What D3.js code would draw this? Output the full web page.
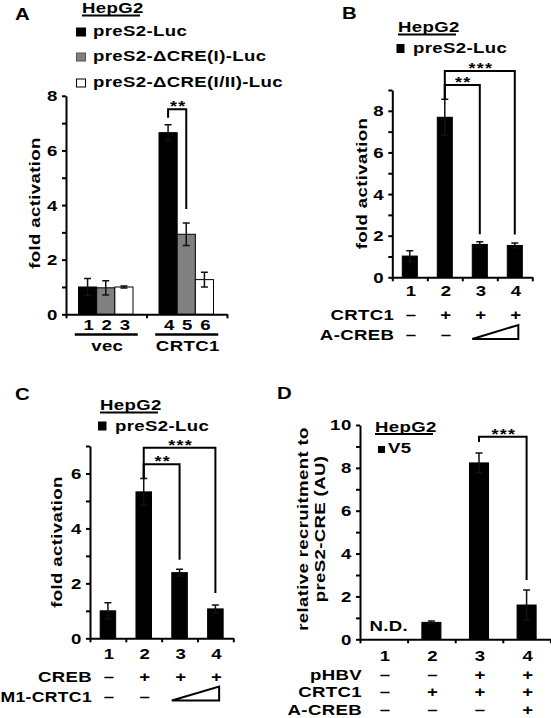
<!DOCTYPE html>
<html><head><meta charset="utf-8">
<script src="https://cdn.jsdelivr.net/npm/d3@7/dist/d3.min.js"></script>
<style>
body{margin:0;background:#fff}
svg text{font-family:"Liberation Sans",Arial,sans-serif;font-weight:bold;fill:#000;letter-spacing:0.3px}
</style></head><body>
<svg id="c" width="551" height="718" xmlns="http://www.w3.org/2000/svg"></svg>
<script>
// ---------------- DATA ----------------
// Panel A
const aGroups = ["vec", "CRTC1"];
const aSeries = ["preS2-Luc", "preS2-\u0394CRE(I)-Luc", "preS2-\u0394CRE(I/II)-Luc"];
const aLanes = [["1", "2", "3"], ["4", "5", "6"]];
const aValues = [[1.00, 0.97, 1.00], [6.65, 2.93, 1.27]];
const aErrors = [[0.31, 0.26, 0.04], [0.29, 0.41, 0.27]];
const aYTicks = [0, 1, 2, 3, 4, 5, 6, 7, 8];

// Panel B
const bLanes = ["1", "2", "3", "4"];
const bValues = [1.02, 7.69, 1.58, 1.53];
const bErrors = [0.26, 0.87, 0.13, 0.12];
const bCRTC1 = ["\u2013", "+", "+", "+"];
const bACREB = ["\u2013", "\u2013"];          // lanes 3-4: increasing dose (wedge)
const bYTicks = [0, 1, 2, 3, 4, 5, 6, 7, 8, 9];

// Panel C
const cLanes = ["1", "2", "3", "4"];
const cValues = [1.00, 5.33, 2.39, 1.07];
const cErrors = [0.29, 0.49, 0.12, 0.14];
const cCREB = ["\u2013", "+", "+", "+"];
const cM1CRTC1 = ["\u2013", "\u2013"];        // lanes 3-4: increasing dose (wedge)
const cYTicks = [0, 1, 2, 3, 4, 5, 6, 7];

// Panel D
const dLanes = ["1", "2", "3", "4"];
const dValues = [null, 0.79, 8.23, 1.60];     // lane 1 not detected
const dErrors = [null, 0.06, 0.46, 0.70];
const dPHBV = ["\u2013", "\u2013", "+", "+"];
const dCRTC1 = ["\u2013", "+", "+", "+"];
const dACREB = ["\u2013", "\u2013", "\u2013", "+"];
const dYTicks = [0, 1, 2, 3, 4, 5, 6, 7, 8, 9, 10];

// significance annotations (lane indices)
const aSig = [{from: [1, 0], to: [1, 1], label: "**"}];
const bSig = [{from: 1, to: 2, label: "**"}, {from: 1, to: 3, label: "***"}];
const cSig = [{from: 1, to: 2, label: "**"}, {from: 1, to: 3, label: "***"}];
const dSig = [{from: 2, to: 3, label: "***"}];

// ---------------- DRAWING ----------------
const svg = d3.select("#c");
const FS = 15.5;
const SX = 1.2;   // horizontal stretch of the lettering

function txt(g, x, y, s, opt = {}) {
  const t = g.append("text").attr("x", 0).attr("y", 0).text(s)
    .attr("font-size", opt.size || FS)
    .attr("text-anchor", opt.anchor || "start")
    .attr("transform", opt.rotate ? `translate(${x},${y}) rotate(-90) scale(${SX},1)` : `translate(${x},${y}) scale(${SX},1)`);
  if (opt.ls !== undefined) t.style("letter-spacing", opt.ls + "px");
  return t;
}

function yAxis(x0, y, ticks) {
  const g = svg.append("g").attr("transform", `translate(${x0},0)`)
    .call(d3.axisLeft(y).tickValues(ticks).tickFormat(d => d % 2 ? "" : d)
      .tickSize(4).tickSizeOuter(0).tickPadding(4));
  g.selectAll("path,line").attr("stroke", "#000").attr("stroke-width", 2);
  g.selectAll("text").attr("font-size", FS).attr("font-family", null)
    .attr("x", -8 / SX).attr("transform", `scale(${SX},1)`).style("letter-spacing", "0.5px");
  return g;
}

function xAxis(x0, x1, y0, n) {
  const s = d3.scaleLinear().domain([0, n]).range([x0, x1]);
  const g = svg.append("g").attr("transform", `translate(0,${y0})`)
    .call(d3.axisBottom(s).tickValues(d3.range(0, n + 1)).tickFormat("").tickSize(4).tickSizeOuter(0));
  g.selectAll("path,line").attr("stroke", "#000").attr("stroke-width", 2);
}

function bar(g, x, w, y, v, e, fill) {
  g.append("rect").attr("x", x).attr("y", y(v)).attr("width", w).attr("height", y(0) - y(v))
    .attr("fill", fill).attr("stroke", "#000").attr("stroke-width", 1);
  if (e) {
    const cx = x + w / 2;
    const p = d3.path();
    p.moveTo(cx, y(v - e)); p.lineTo(cx, y(v + e));
    p.moveTo(cx - 3.5, y(v + e)); p.lineTo(cx + 3.5, y(v + e));
    p.moveTo(cx - 3.5, y(v - e)); p.lineTo(cx + 3.5, y(v - e));
    g.append("path").attr("d", p.toString()).attr("stroke", "#111")
      .attr("stroke-width", 1.5).attr("fill", "none");
  }
}

function bracket(g, x1, y1s, x2, y2e, ytop, label) {
  const p = d3.path();
  p.moveTo(x1, y1s); p.lineTo(x1, ytop); p.lineTo(x2, ytop); p.lineTo(x2, y2e);
  g.append("path").attr("d", p.toString()).attr("stroke", "#000").attr("stroke-width", 2).attr("fill", "none");
  txt(g, (x1 + x2) / 2 + 1, ytop + 2, label, {anchor: "middle", size: 15, ls: 1}).attr("font-weight", "normal");
}

function legendHeader(x, y, w) {
  txt(svg, x, y, "HepG2");
  svg.append("line").attr("x1", x).attr("x2", x + w).attr("y1", y + 2.5).attr("y2", y + 2.5)
    .attr("stroke", "#000").attr("stroke-width", 1.8);
}

function wedge(g, xl, xr, yb, yt) {
  g.append("path").attr("d", `M${xl},${yb}L${xr},${yb}L${xr},${yt}Z`)
    .attr("fill", "none").attr("stroke", "#000").attr("stroke-width", 2);
}

// ======== Panel A ========
(function () {
  const g = svg.append("g");
  txt(g, 15, 20, "A", {size: 17, ls: 0});
  legendHeader(82, 13, 58);
  const fills = ["#000", "#808080", "#fff"];
  const rowY = [36, 61, 87];
  aSeries.forEach((s, i) => {
    g.append("rect").attr("x", 76.5).attr("y", rowY[i] - 8).attr("width", 9).attr("height", 8)
      .attr("fill", fills[i]).attr("stroke", i === 1 ? "#555" : "#000").attr("stroke-width", 1);
    txt(g, 93, rowY[i], s);
  });

  const y = d3.scaleLinear().domain([0, 8]).range([314.3, 95.8]);
  const xg = d3.scaleBand().domain(aGroups).range([66, 227]).padding(0);
  const xi = d3.scaleBand().domain(d3.range(3)).range([12.5, 67]).padding(0);

  aGroups.forEach((grp, gi) => {
    aValues[gi].forEach((v, si) => {
      bar(g, xg(grp) + xi(si), xi.bandwidth(), y, v, aErrors[gi][si], fills[si]);
      txt(g, xg(grp) + xi(si) + xi.bandwidth() / 2 + 1, 330, aLanes[gi][si], {anchor: "middle", ls: 0});
    });
    const cx = xg(grp) + xg.bandwidth() / 2;
    g.append("line").attr("x1", cx - 31.5).attr("x2", cx + 31.5).attr("y1", 334.5).attr("y2", 334.5)
      .attr("stroke", "#000").attr("stroke-width", 2.5);
    txt(g, cx + 1, 350.5, grp, {anchor: "middle"});
  });
  yAxis(66, y, aYTicks);
  xAxis(66, 227, 314.3, 2);
  txt(g, 40, y(4) - 2, "fold activation", {anchor: "middle", rotate: true});

  aSig.forEach(s => {
    const x1 = xg(aGroups[s.from[0]]) + xi(s.from[1]) + xi.bandwidth() / 2;
    const x2 = xg(aGroups[s.to[0]]) + xi(s.to[1]) + xi.bandwidth() / 2;
    const v1 = aValues[s.from[0]][s.from[1]] + aErrors[s.from[0]][s.from[1]];
    const v2 = aValues[s.to[0]][s.to[1]] + aErrors[s.to[0]][s.to[1]];
    bracket(g, x1, y(v1) - 7, x2, y(v2) - 14, y(v1) - 15.5, s.label);
  });
})();

// ======== generic 4-lane panel ========
function lanePanel(cfg) {
  const g = svg.append("g");
  const y = d3.scaleLinear().domain([0, cfg.ymax]).range([cfg.y0, cfg.y1]);
  const x = d3.scaleBand().domain(d3.range(4)).range([cfg.x0, cfg.x1])
    .paddingInner(cfg.pad).paddingOuter(cfg.pad / 2);
  cfg.values.forEach((v, i) => {
    if (v !== null) bar(g, x(i), x.bandwidth(), y, v, cfg.errors[i], "#000");
    txt(g, x(i) + x.bandwidth() / 2 + 1, cfg.laneY, cfg.lanes[i], {anchor: "middle", ls: 0});
  });
  yAxis(cfg.x0, y, cfg.ticks);
  xAxis(cfg.x0, cfg.x1, cfg.y0, 4);
  cfg.rows.forEach((r, ri) => {
    const right = cfg.x0 + 2;
    const t = txt(g, right, cfg.rowY[ri], r.name, {anchor: "end"});
    const w = t.node().getComputedTextLength() * SX;
    if (w > right - 0.5) {
      // squeeze so that the label starts at the left edge of the page
      t.attr("textLength", (right - 0.5) / SX).attr("lengthAdjust", "spacingAndGlyphs");
    }
    r.vals.forEach((s, i) => txt(g, x(i) + x.bandwidth() / 2 + 1, cfg.rowY[ri], s, {anchor: "middle", ls: 0}));
    if (r.wedge) wedge(g, x(2), x(3) + x.bandwidth() - 4, cfg.rowY[ri] - 1, cfg.rowY[ri] - 15);
  });
  cfg.sig.forEach((s, k) => {
    const cx = i => x(i) + x.bandwidth() / 2;
    const top1 = y(cfg.values[s.from] + cfg.errors[s.from]);
    const top2 = y(cfg.values[s.to] + cfg.errors[s.to]);
    bracket(g, cx(s.from), cfg.sigStart ? top1 - cfg.sigStart : top1, cx(s.to), top2 - cfg.sigGap[k], cfg.sigY[k], s.label);
  });
  return {g, x, y};
}

// ======== Panel B ========
(function () {
  txt(svg, 342, 18.5, "B", {size: 17, ls: 0});
  legendHeader(398, 32, 58);
  svg.append("rect").attr("x", 396.5).attr("y", 44).attr("width", 8).attr("height", 9).attr("fill", "#000");
  txt(svg, 413, 53, "preS2-Luc");
  lanePanel({
    x0: 392.3, x1: 532.3, y0: 277.3, y1: 90, ymax: 9, ticks: bYTicks, pad: 0.57,
    values: bValues, errors: bErrors, lanes: bLanes, laneY: 295.5,
    rows: [{name: "CRTC1", vals: bCRTC1}, {name: "A-CREB", vals: bACREB, wedge: true}],
    rowY: [320, 340],
    sig: bSig, sigY: [85, 71], sigGap: [7.5, 8.5], sigStart: 0
  });
  txt(svg, 366.5, 183.5, "fold activation", {anchor: "middle", rotate: true});
})();

// ======== Panel C ========
(function () {
  txt(svg, 15, 400, "C", {size: 17, ls: 0});
  legendHeader(100, 410, 58);
  svg.append("rect").attr("x", 98).attr("y", 421.5).attr("width", 8.5).attr("height", 9).attr("fill", "#000");
  txt(svg, 115, 430.5, "preS2-Luc");
  lanePanel({
    x0: 90, x1: 233.3, y0: 638.3, y1: 446, ymax: 7, ticks: cYTicks, pad: 0.567,
    values: cValues, errors: cErrors, lanes: cLanes, laneY: 658.5,
    rows: [{name: "CREB", vals: cCREB}, {name: "M1-CRTC1", vals: cM1CRTC1, wedge: true}],
    rowY: [681.5, 701.5],
    sig: cSig, sigY: [464.3, 447.7], sigGap: [9.5, 12], sigStart: 0
  });
  txt(svg, 62, 542, "fold activation", {anchor: "middle", rotate: true});
})();

// ======== Panel D ========
(function () {
  txt(svg, 277, 398.5, "D", {size: 17, ls: 0});
  legendHeader(375, 431.5, 58);
  svg.append("rect").attr("x", 378).attr("y", 446).attr("width", 7).attr("height", 7).attr("fill", "#000");
  txt(svg, 388, 453, "V5");
  const p = lanePanel({
    x0: 360, x1: 550.4, y0: 639.3, y1: 425, ymax: 10, ticks: dYTicks, pad: 0.6,
    values: dValues, errors: dErrors, lanes: dLanes, laneY: 661,
    rows: [{name: "pHBV", vals: dPHBV}, {name: "CRTC1", vals: dCRTC1}, {name: "A-CREB", vals: dACREB}],
    rowY: [679.5, 697, 715],
    sig: dSig, sigY: [436.7], sigGap: [10], sigStart: 11
  });
  txt(svg, p.x(0) + p.x.bandwidth() / 2 + 5, 630.7, "N.D.", {anchor: "middle"});
  txt(svg, 308, 529, "relative recruitment to", {anchor: "middle", rotate: true});
  txt(svg, 325, 529, "preS2-CRE (AU)", {anchor: "middle", rotate: true});
})();
</script>
</body></html>
